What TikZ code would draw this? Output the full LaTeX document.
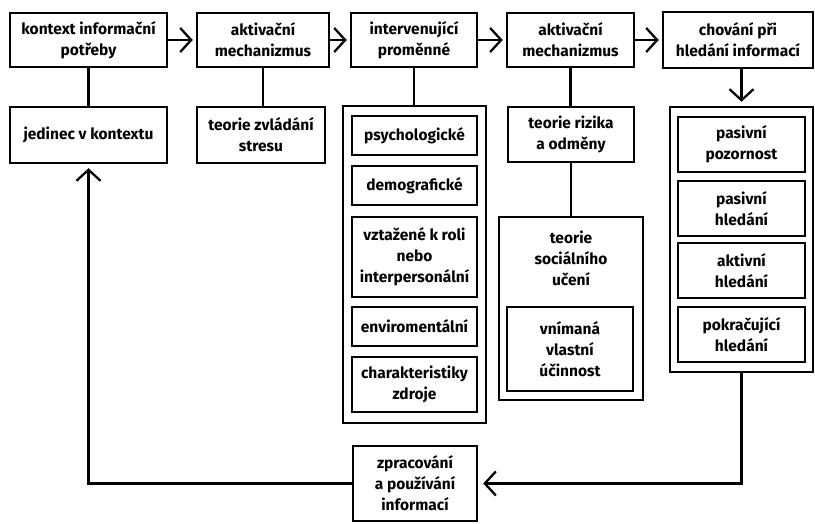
\documentclass[tikz,border=0pt]{standalone}
\usepackage{fontspec}
\setmainfont{Fira Sans}
\usetikzlibrary{arrows.meta,calc}
\tikzset{
 box/.style={draw, line width=2.5pt, inner sep=0pt, align=center, font=\fontsize{15.5}{21}\selectfont\bfseries},
 grp/.style={draw, line width=2.5pt, inner sep=0pt},
 lbl/.style={inner sep=0pt, align=center, font=\fontsize{15.5}{21}\selectfont\bfseries},
 conn/.style={line width=2.3pt},
 arr/.style={line width=2.3pt, -{Straight Barb[length=11pt,width=24pt,line width=2.3pt]}, shorten >=3pt}
}
\newcommand\bx[6]{\node[box, minimum width={#4-#2}, minimum height={#5-#3}] (#1) at ({(#2+#4)/2},{(#3+#5)/2}) {#6};}
\newcommand\gx[5]{\node[grp, minimum width={#4-#2}, minimum height={#5-#3}] (#1) at ({(#2+#4)/2},{(#3+#5)/2}) {};}
\begin{document}
\begin{tikzpicture}[x=1pt,y=-1pt]
\useasboundingbox (0,0) rectangle (815,524);
% top row
\bx{b1}{10}{13}{167}{67}{kontext informační\\potřeby}
\bx{b2}{197}{13}{329}{67}{aktivační\\mechanizmus}
\bx{b3}{351}{13}{477}{67}{intervenující\\proměnné}
\bx{b4}{507}{13}{634}{67}{aktivační\\mechanizmus}
\bx{b5}{663}{12}{813}{68}{chování při\\hledání informací}
% second row
\bx{jed}{10}{107}{167}{163}{jedinec v kontextu}
\bx{stres}{197}{107}{325}{163}{teorie zvládání\\stresu}
% intervening variables
\gx{ivout}{343}{106}{486}{423}
\bx{psy}{352}{116}{477}{155}{psychologické}
\bx{demo}{352}{166}{477}{205}{demografické}
\bx{vzt}{352}{217}{477}{297}{vztažené k roli\\nebo\\interpersonální}
\bx{env}{352}{307}{477}{346}{enviromentální}
\bx{char}{352}{357}{477}{412}{charakteristiky\\zdroje}
% activating mechanism 2
\bx{riz}{508}{107}{634}{162}{teorie rizika\\a odměny}
\gx{soc}{499}{217}{643}{400}
\node[lbl] (soct) at (571,258) {teorie\\sociálního\\učení};
\bx{vn}{507}{307}{633}{391}{vnímaná\\vlastní\\účinnost}
% information seeking behaviour
\gx{chout}{670}{107}{813}{372}
\bx{pp}{678}{117}{805}{172}{pasivní\\pozornost}
\bx{ph}{678}{181}{805}{236}{pasivní\\hledání}
\bx{ah}{678}{243}{805}{298}{aktivní\\hledání}
\bx{kh}{678}{307}{805}{362}{pokračující\\hledání}
% processing
\bx{zp}{353}{446}{477}{521}{zpracování\\a používání\\informací}
% connectors
\draw[arr] (b1) -- (b2);
\draw[arr] (b2) -- (b3);
\draw[arr] (b3) -- (b4);
\draw[arr] (b4) -- (b5);
\draw[conn] (b1.south) -- (jed.north);
\draw[conn] (b2.south) -- (b2.south |- stres.north);
\draw[conn] (b3.south) -- (b3.south |- ivout.north);
\draw[conn] (b4.south) -- (b4.south |- riz.north);
\draw[conn] (riz.south) -- (riz.south |- soc.north);
\draw[arr, shorten >=4pt] (chout.north |- b5.south) -- (chout.north);
\draw[arr, shorten >=5pt] (chout.south) |- (zp.east);
\draw[arr, shorten >=4pt] (zp.west) -| (jed.south);
\end{tikzpicture}
\end{document}
